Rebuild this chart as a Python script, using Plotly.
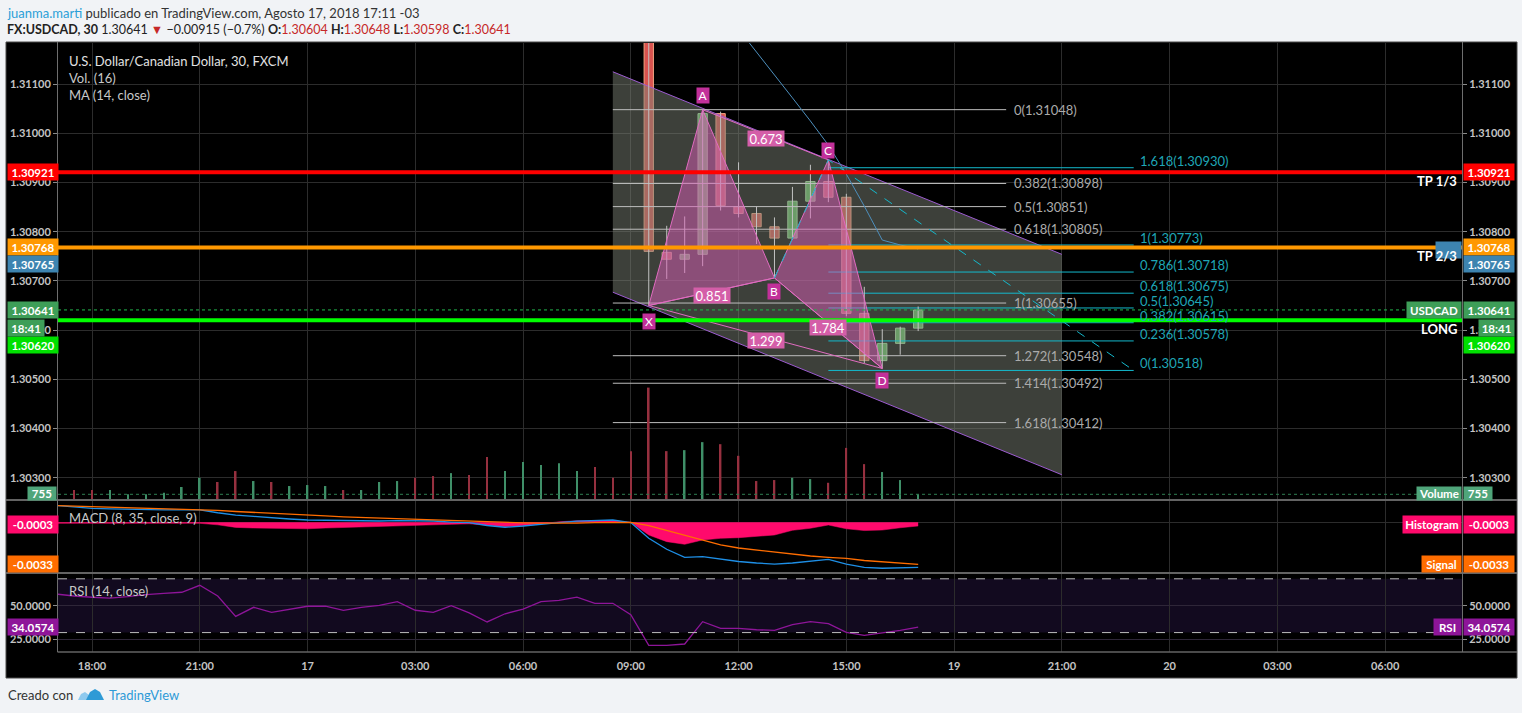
import plotly.graph_objects as go

# ---------------------------------------------------------------- data
# bar positions in hours after 16 Aug 18:00 (30-minute bars, weekend gap removed)
bar_hours = [h / 2 for h in range(-2, 47)]

volume = [1320, 1320, 1320, 1320, 755, 755, 960, 1720, 2940, 2380, 3830, 2510, 2380,
          1850, 1980, 1850, 1320, 1320, 2380, 2510, 2940, 3170, 3560, 3300, 5680, 3830,
          5020, 4620, 4880, 3830, 4360, 2940, 6470, 14880, 6470, 6600, 7660, 7390, 5850,
          2510, 2640, 2940, 2770, 2280, 6900, 4750, 3700, 2640, 755]
volume_up = [False, False, False, True, True, True, True, True, True, False, False, True,
             False, True, True, True, False, True, True, True, False, False, True, False,
             False, True, True, True, True, True, False, False, False, False, False, True,
             True, False, False, False, False, True, True, False, False, False, True, True, True]

macd_line = [0.00132, 0.00120, 0.00110, 0.00105, 0.00101, 0.00097, 0.00097, 0.00097, 0.00097,
             0.00075, 0.00057, 0.00046, 0.00034, 0.00026, 0.00018, 0.00016, 0.00013, 0.00010,
             0.00010, 0.00013, 0.00013, 0.00010, 0.00002, -0.00003, -0.00025, -0.00039,
             -0.00029, -0.00013, -0.00002, 0.00009, 0.00014, 0.00018, -0.00002, -0.00126,
             -0.00212, -0.00275, -0.00270, -0.00291, -0.00308, -0.00320, -0.00328, -0.00320,
             -0.00308, -0.00291, -0.00328, -0.00354, -0.00361, -0.00359, -0.00354]
macd_signal = [0.00132, 0.00128, 0.00124, 0.00120, 0.00116, 0.00112, 0.00110, 0.00106, 0.00102,
               0.00093, 0.00085, 0.00077, 0.00069, 0.00061, 0.00055, 0.00050, 0.00043, 0.00038,
               0.00032, 0.00028, 0.00024, 0.00018, 0.00013, 0.00008, 0.00002, -0.00002,
               -0.00004, -0.00006, -0.00007, -0.00006, -0.00003, -0.00002, 0.00000, -0.00027,
               -0.00066, -0.00105, -0.00145, -0.00178, -0.00202, -0.00218, -0.00237, -0.00251,
               -0.00265, -0.00275, -0.00283, -0.00300, -0.00310, -0.00320, -0.00330]
macd_hist = [-0.00008, -0.00008, -0.00009, -0.00010, -0.00010, -0.00010, -0.00009, -0.00008,
             -0.00008, -0.00020, -0.00040, -0.00045, -0.00048, -0.00050, -0.00051, -0.00045,
             -0.00040, -0.00036, -0.00033, -0.00030, -0.00026, -0.00020, -0.00016, -0.00012,
             -0.00024, -0.00035, -0.00028, -0.00012, 0.00004, 0.00012, 0.00013, 0.00012,
             0.00000, -0.00100, -0.00152, -0.00173, -0.00139, -0.00126, -0.00121, -0.00110,
             -0.00100, -0.00063, -0.00047, -0.00021, -0.00051, -0.00065, -0.00061, -0.00043,
             -0.00029]
rsi_values = [58.7, 57.2, 56.3, 55.7, 56.8, 58.3, 59.1, 60.0, 65.2, 57.2, 42.1, 48.8, 45.1,
              47.5, 49.6, 49.6, 46.6, 48.8, 50.3, 53.0, 46.6, 45.1, 50.0, 44.6, 37.9, 44.0,
              47.5, 53.0, 54.0, 56.3, 51.8, 51.8, 43.3, 20.5, 20.5, 21.5, 38.1, 33.2, 33.2,
              32.1, 31.7, 35.9, 38.1, 36.6, 30.2, 28.0, 29.7, 31.7, 34.0574]

candle_hours = [15.5, 16, 16.5, 17, 17.5, 18, 18.5, 19, 19.5, 20, 20.5, 21, 21.5, 22, 22.5, 23]
candle_open = [1.31290, 1.30758, 1.30744, 1.30754, 1.31040, 1.30851, 1.30837, 1.30810,
               1.30787, 1.30862, 1.30902, 1.30870, 1.30634, 1.30538, 1.30573, 1.30604]
candle_high = [1.31310, 1.30812, 1.30831, 1.31048, 1.31044, 1.30941, 1.30851, 1.30829,
               1.30891, 1.30936, 1.30946, 1.30877, 1.30688, 1.30602, 1.30607, 1.30648]
candle_low = [1.30650, 1.30704, 1.30716, 1.30730, 1.30843, 1.30829, 1.30775, 1.30706,
              1.30783, 1.30827, 1.30860, 1.30628, 1.30533, 1.30522, 1.30550, 1.30598]
candle_close = [1.30760, 1.30744, 1.30754, 1.31040, 1.30853, 1.30837, 1.30810, 1.30787,
                1.30862, 1.30902, 1.30870, 1.30634, 1.30538, 1.30573, 1.30604, 1.30641]

ma_hours = [17.5, 18, 18.5, 19, 19.5, 20, 20.5, 21, 21.5, 22, 22.5, 23]
ma_values = [1.31258, 1.31212, 1.31165, 1.31118, 1.31072, 1.31025, 1.30976, 1.30917,
             1.30852, 1.30783, 1.30773, 1.30765]

time_tick_hours = [0, 3, 6, 9, 12, 15, 18, 21, 24, 27, 30, 33, 36]
time_tick_labels = ["18:00", "21:00", "17", "03:00", "06:00", "09:00", "12:00", "15:00",
                    "19", "21:00", "20", "03:00", "06:00"]
price_ticks = [1.303, 1.304, 1.305, 1.306, 1.307, 1.308, 1.309, 1.310, 1.311]
rsi_ticks = [25, 50]

# XABCD harmonic pattern
pattern_names = ["X", "A", "B", "C", "D"]
pattern_hours = [15.5, 17, 19, 20.5, 22]
pattern_prices = [1.30650, 1.31048, 1.30706, 1.30946, 1.30522]
pattern_ratios = [("X", "B", "0.851"), ("A", "C", "0.673"), ("B", "D", "1.784"), ("X", "D", "1.299")]

# descending channel (start / end hour, upper and lower prices)
channel_hours = [14.5, 27]
channel_upper = [1.31125, 1.30754]
channel_lower = [1.30677, 1.30306]

# fibonacci retracement (grey) and trend-based extension (cyan)
fib_grey_hours = [14.5, 25.45]
fib_grey_levels = ["0", "0.382", "0.5", "0.618", "1", "1.272", "1.414", "1.618"]
fib_grey_prices = [1.31048, 1.30898, 1.30851, 1.30805, 1.30655, 1.30548, 1.30492, 1.30412]
fib_cyan_hours = [20.5, 29]
fib_cyan_levels = ["1.618", "1", "0.786", "0.618", "0.5", "0.382", "0.236", "0"]
fib_cyan_prices = [1.30930, 1.30773, 1.30718, 1.30675, 1.30645, 1.30615, 1.30578, 1.30518]
fib_cyan_path_hours = [19, 20.5, 29]
fib_cyan_path_prices = [1.30706, 1.30946, 1.30518]

# horizontal trade levels
tp1_price, tp2_price, long_price = 1.30921, 1.30768, 1.30620
last_price, ma_last, last_volume = 1.30641, 1.30765, 755
hist_last, signal_last, rsi_last = -0.0003, -0.0033, 34.0574

# ---------------------------------------------------------------- layout helpers
W, H = 1522, 713
FONT = "Lato"
GRID = "#2c2c2c"
AXF = dict(family=FONT, size=11, color="#c4c4c4", weight="bold")


def fx(px):
    return px / W


def fy(px):
    return 1 - px / H


XD = [fx(58), fx(1462)]
XR = [-0.9465, 38.14]
Y_MAIN = [1.302547, 1.311835]
Y_VOL = [0, 60500]
Y_MACD = [-0.003984, 0.001752]
Y_RSI = [15.55, 74.33]

fig = go.Figure()

# ---------------------------------------------------------------- volume
fig.add_trace(go.Bar(
    x=bar_hours, y=volume, yaxis="y4", xaxis="x", width=0.045,
    marker=dict(color=["#3f8f68" if u else "#96303f" for u in volume_up], line=dict(width=0)),
    hoverinfo="skip"))

# ---------------------------------------------------------------- channel
fig.add_trace(go.Scatter(
    x=[channel_hours[0], channel_hours[1], channel_hours[1], channel_hours[0], channel_hours[0]],
    y=[channel_upper[0], channel_upper[1], channel_lower[1], channel_lower[0], channel_upper[0]],
    fill="toself", fillcolor="rgba(122,128,116,0.5)", line=dict(width=0), mode="lines",
    hoverinfo="skip"))
for edge in (channel_upper, channel_lower):
    fig.add_trace(go.Scatter(x=channel_hours, y=edge, mode="lines",
                             line=dict(color="#9c5bd0", width=1), hoverinfo="skip"))

# ---------------------------------------------------------------- fib lines
fx_g, fy_g = [], []
for p in fib_grey_prices:
    fx_g += [fib_grey_hours[0], fib_grey_hours[1], None]
    fy_g += [p, p, None]
fig.add_trace(go.Scatter(x=fx_g, y=fy_g, mode="lines", line=dict(color="#bdbdbd", width=1),
                         hoverinfo="skip"))
fx_c, fy_c = [], []
for p in fib_cyan_prices:
    fx_c += [fib_cyan_hours[0], fib_cyan_hours[1], None]
    fy_c += [p, p, None]
fig.add_trace(go.Scatter(x=fx_c, y=fy_c, mode="lines", line=dict(color="#14b9cc", width=1),
                         hoverinfo="skip"))

# ---------------------------------------------------------------- candles
wx, wy = [], []
for h, hi, lo in zip(candle_hours, candle_high, candle_low):
    wx += [h, h, None]
    wy += [lo, hi, None]
fig.add_trace(go.Scatter(x=wx, y=wy, mode="lines", line=dict(color="#c2c2c2", width=1),
                         hoverinfo="skip"))
ups = [c >= o for o, c in zip(candle_open, candle_close)]
fig.add_trace(go.Bar(
    x=candle_hours,
    base=[min(o, c) for o, c in zip(candle_open, candle_close)],
    y=[max(abs(c - o), 0.00002) for o, c in zip(candle_open, candle_close)],
    width=0.26,
    marker=dict(color=["#5cb85c" if u else "#d9534f" for u in ups],
                line=dict(color=["#a6e2a2" if u else "#f4a582" for u in ups], width=1)),
    hoverinfo="skip"))

# moving average
fig.add_trace(go.Scatter(x=ma_hours, y=ma_values, mode="lines",
                         line=dict(color="#4d8fbd", width=1), hoverinfo="skip"))

# ---------------------------------------------------------------- harmonic pattern
P = {n: (h, p) for n, h, p in zip(pattern_names, pattern_hours, pattern_prices)}
for tri in (("X", "A", "B"), ("B", "C", "D")):
    fig.add_trace(go.Scatter(
        x=[P[n][0] for n in tri + (tri[0],)], y=[P[n][1] for n in tri + (tri[0],)],
        fill="toself", fillcolor="rgba(218,91,182,0.5)", mode="lines",
        line=dict(color="#e06cc0", width=1), hoverinfo="skip"))
for a, b, _ in pattern_ratios:
    fig.add_trace(go.Scatter(x=[P[a][0], P[b][0]], y=[P[a][1], P[b][1]], mode="lines",
                             line=dict(color="#e06cc0", width=1), hoverinfo="skip"))

fig.add_trace(go.Scatter(x=fib_cyan_path_hours, y=fib_cyan_path_prices, mode="lines",
                         line=dict(color="#14b9cc", width=1, dash="dash"), hoverinfo="skip"))

# ---------------------------------------------------------------- MACD
fig.add_trace(go.Scatter(x=bar_hours, y=macd_hist, xaxis="x2", yaxis="y2", mode="lines",
                         fill="tozeroy", fillcolor="#ff0a6c", line=dict(color="#ff0a6c", width=0.5),
                         hoverinfo="skip"))
fig.add_trace(go.Scatter(x=bar_hours, y=macd_line, xaxis="x2", yaxis="y2", mode="lines",
                         line=dict(color="#1e8fe6", width=1.3), hoverinfo="skip"))
fig.add_trace(go.Scatter(x=bar_hours, y=macd_signal, xaxis="x2", yaxis="y2", mode="lines",
                         line=dict(color="#ff6d00", width=1.3), hoverinfo="skip"))

# ---------------------------------------------------------------- RSI
fig.add_trace(go.Scatter(x=bar_hours, y=rsi_values, xaxis="x3", yaxis="y3", mode="lines",
                         line=dict(color="#8e1599", width=1.3), hoverinfo="skip"))

# invisible anchors for the right-hand axes
fig.add_trace(go.Scatter(x=[XR[0]], y=[last_price], yaxis="y5", mode="markers",
                         marker=dict(opacity=0), hoverinfo="skip"))
fig.add_trace(go.Scatter(x=[XR[0]], y=[50], xaxis="x3", yaxis="y6", mode="markers",
                         marker=dict(opacity=0), hoverinfo="skip"))

# ---------------------------------------------------------------- shapes
shapes = [
    dict(type="rect", xref="paper", yref="paper", x0=fx(6), x1=fx(1517), y0=fy(678), y1=fy(42),
         fillcolor="#000000", line=dict(color="#4a4a4a", width=1), layer="below"),
    dict(type="rect", xref="x3 domain", yref="y3", x0=0, x1=1, y0=30, y1=70,
         fillcolor="#120a1f", line=dict(width=0), layer="below"),
]
for yv in (70, 30):
    shapes.append(dict(type="line", xref="x3 domain", yref="y3", x0=0, x1=1, y0=yv, y1=yv,
                       line=dict(color="#bdbdbd", width=1, dash="dash"), layer="above"))
for ypx in (500, 573):
    shapes.append(dict(type="line", xref="paper", yref="paper", x0=fx(6), x1=fx(1517),
                       y0=fy(ypx), y1=fy(ypx), line=dict(color="#636363", width=2)))
shapes.append(dict(type="line", xref="paper", yref="paper", x0=fx(57.5), x1=fx(1517),
                   y0=fy(652), y1=fy(652), line=dict(color="#636363", width=1.5)))
for xpx in (57.5, 1462.5):
    shapes.append(dict(type="line", xref="paper", yref="paper", x0=fx(xpx), x1=fx(xpx),
                       y0=fy(652), y1=fy(42), line=dict(color="#6e6e6e", width=1)))
shapes += [
    dict(type="line", xref="x domain", yref="y4", x0=0, x1=1, y0=last_volume, y1=last_volume,
         line=dict(color="#2f7f52", width=1, dash="dot")),
    dict(type="line", xref="x domain", yref="y", x0=0, x1=1, y0=last_price, y1=last_price,
         line=dict(color="#22b14c", width=1, dash="dot")),
    dict(type="line", xref="x domain", yref="y", x0=0, x1=1, y0=tp1_price, y1=tp1_price,
         line=dict(color="#ff0000", width=4)),
    dict(type="line", xref="x domain", yref="y", x0=0, x1=1, y0=tp2_price, y1=tp2_price,
         line=dict(color="#ff9800", width=4)),
    dict(type="line", xref="x domain", yref="y", x0=0, x1=1, y0=long_price, y1=long_price,
         line=dict(color="#00ff00", width=4)),
]


# TradingView logo in the footer (two small cloud-like shapes)
def logo_path(points):
    return "M " + " L ".join("%.5f,%.5f" % (fx(a), fy(b)) for a, b in points) + " Z"


shapes.append(dict(type="path", xref="paper", yref="paper",
                   path=logo_path([(78, 700), (81, 694), (85, 692), (89, 695), (92, 700)]),
                   fillcolor="#8fc9ee", line=dict(width=0)))
shapes.append(dict(type="path", xref="paper", yref="paper",
                   path=logo_path([(86, 700), (90, 692), (95, 689), (100, 692), (104, 700)]),
                   fillcolor="#2e9ad6", line=dict(width=0)))

# ---------------------------------------------------------------- annotations
ann = []


def badge(text, xl, width, yref, y, bg, yshift=0, height=16, size=11.5, anchor="left"):
    ann.append(dict(text="<b>%s</b>" % text, xref="paper", x=fx(xl), xanchor=anchor,
                    yref=yref, y=y, yanchor="middle", yshift=yshift, showarrow=False,
                    bgcolor=bg, width=width, height=height, borderpad=0, align="center",
                    valign="middle", font=dict(family=FONT, size=size, color="#ffffff")))


for side_x in (7, 1463):
    badge("%.5f" % tp1_price, side_x, 50, "y", tp1_price, "#ff0000")
    badge("%.5f" % tp2_price, side_x, 50, "y", tp2_price, "#ff9800")
    badge("%.5f" % ma_last, side_x, 50, "y", ma_last, "#3d84b0", yshift=-15.5)
    badge("%.5f" % last_price, side_x, 50, "y", last_price, "#3e9e58")
    badge("%.5f" % long_price, side_x, 50, "y", long_price, "#00e000", yshift=-24.8)
    badge("%.4f" % hist_last, side_x, 50, "y2", hist_last, "#ff0a6c", yshift=2, height=17)
    badge("%.4f" % signal_last, side_x, 50, "y2", signal_last, "#ff6d00", height=16)
    badge("%.4f" % rsi_last, side_x, 50, "y3", rsi_last, "#8e1599", height=16)
badge("18:41", 7, 36, "y", last_price, "#3e9e58", yshift=-18.5)
badge("18:41", 1478, 35, "y", last_price, "#3e9e58", yshift=-18.5)
badge("%d" % last_volume, 57, 28, "y4", last_volume, "#4fa57a", yshift=0.5, height=13, anchor="right")
badge("%d" % last_volume, 1463, 28, "y4", last_volume, "#4fa57a", yshift=0.5, height=13)

# pane labels left of the right axis
badge("USDCAD", 1462, 54, "y", last_price, "#3e9e58", anchor="right")
badge("", 1462, 25, "y", ma_last, "#3d84b0", yshift=-1, anchor="right")
badge("Volume", 1462, 44, "y4", last_volume, "#4fa57a", yshift=0.5, height=13, anchor="right")
badge("Histogram", 1462, 58, "y2", hist_last, "#ff0a6c", yshift=2, height=17, anchor="right")
badge("Signal", 1462, 39, "y2", signal_last, "#ff6d00", anchor="right")
badge("RSI", 1462, 27, "y3", rsi_last, "#8e1599", anchor="right")

for txt, yv in (("TP 1/3", tp1_price), ("TP 2/3", tp2_price), ("LONG", long_price)):
    ann.append(dict(text="<b>%s</b>" % txt, xref="paper", x=fx(1459), xanchor="right",
                    yref="y", y=yv, yanchor="middle", yshift=-8.5, showarrow=False,
                    font=dict(family=FONT, size=13, color="#ffffff")))

# fib labels
for lv, p in zip(fib_grey_levels, fib_grey_prices):
    ann.append(dict(text="%s(%.5f)" % (lv, p), x=fib_grey_hours[1] + 0.16, y=p, xref="x", yref="y",
                    xanchor="left", yanchor="middle", showarrow=False,
                    font=dict(family=FONT, size=13, color="#ababab")))
for lv, p in zip(fib_cyan_levels, fib_cyan_prices):
    ann.append(dict(text="%s(%.5f)" % (lv, p), x=fib_cyan_hours[1] + 0.13, y=p, xref="x", yref="y",
                    xanchor="left", yanchor="middle", yshift=7, showarrow=False,
                    font=dict(family=FONT, size=13, color="#1fa6b6")))

# harmonic labels
point_shift = {"X": -16, "A": 14, "B": -14, "C": 9.5, "D": -12.5}
for n in pattern_names:
    ann.append(dict(text=n, x=P[n][0], y=P[n][1], xref="x", yref="y", yshift=point_shift[n],
                    showarrow=False, bgcolor="#c2309a", width=12, height=15, borderpad=0,
                    font=dict(family=FONT, size=12, color="#ffffff")))
for a, b, txt in pattern_ratios:
    ann.append(dict(text=txt, x=(P[a][0] + P[b][0]) / 2, y=(P[a][1] + P[b][1]) / 2, xref="x",
                    yref="y", yshift=-4, showarrow=False, bgcolor="#d45ea8", width=36, height=15,
                    borderpad=0, font=dict(family=FONT, size=13, color="#ffffff")))

# pane titles
for txt, ypx, col in (("U.S. Dollar/Canadian Dollar, 30, FXCM", 60.5, "#e2e2e2"),
                      ("Vol. (16)", 77.5, "#c8c8c8"), ("MA (14, close)", 94.5, "#c8c8c8"),
                      ("MACD (8, 35, close, 9)", 517.5, "#c8c8c8"),
                      ("RSI (14, close)", 590.5, "#c8c8c8")):
    ann.append(dict(text=txt, xref="paper", yref="paper", x=fx(67), y=fy(ypx), xanchor="left",
                    yanchor="middle", showarrow=False, font=dict(family=FONT, size=13, color=col)))

# header
ann.append(dict(
    text="<span style='color:#2a9fd8'>juanma.marti</span> publicado en TradingView.com, Agosto 17, 2018 17:11 -03",
    xref="paper", yref="paper", x=fx(5), y=fy(12.5), xanchor="left", yanchor="middle",
    showarrow=False, font=dict(family=FONT, size=13, color="#333333")))
red = "#c62828"
ann.append(dict(
    text=("<b>FX:USDCAD, 30</b> 1.30641 <span style='color:%s'>▼</span> −0.00915 (−0.7%%) "
          "<b>O:</b><span style='color:%s'>1.30604</span> <b>H:</b><span style='color:%s'>1.30648</span> "
          "<b>L:</b><span style='color:%s'>1.30598</span> <b>C:</b><span style='color:%s'>1.30641</span>")
         % (red, red, red, red, red),
    xref="paper", yref="paper", x=fx(5), y=fy(30), xanchor="left", yanchor="middle",
    showarrow=False, font=dict(family=FONT, size=12.5, color="#222222")))
# footer
ann.append(dict(text="Creado con", xref="paper", yref="paper", x=fx(6), y=fy(695), xanchor="left",
                yanchor="middle", showarrow=False, font=dict(family=FONT, size=13, color="#333333")))
ann.append(dict(text="TradingView", xref="paper", yref="paper", x=fx(107), y=fy(695),
                xanchor="left", yanchor="middle", showarrow=False,
                font=dict(family=FONT, size=13, color="#2e9ad6")))

# ---------------------------------------------------------------- axes
common_x = dict(domain=XD, range=XR, tickvals=time_tick_hours, showgrid=True, gridcolor=GRID,
                zeroline=False, showline=False)
price_ticktext = ["%.5f" % v for v in price_ticks]
fig.update_layout(
    width=W, height=H, margin=dict(l=0, r=0, t=0, b=0),
    paper_bgcolor="#f1f3f6", plot_bgcolor="#000000", showlegend=False, barmode="overlay",
    hovermode=False, shapes=shapes, annotations=ann,
    xaxis=dict(common_x, anchor="y", showticklabels=False),
    xaxis2=dict(common_x, anchor="y2", showticklabels=False, matches="x"),
    xaxis3=dict(common_x, anchor="y3", ticktext=time_tick_labels, showticklabels=True,
                ticks="outside", ticklen=4, tickcolor="rgba(0,0,0,0)", tickfont=AXF, matches="x"),
    yaxis=dict(domain=[fy(500), fy(43)], range=Y_MAIN, tickvals=price_ticks, ticktext=price_ticktext,
               side="left", ticks="outside", ticklen=4, tickcolor="#8a8a8a", tickfont=AXF,
               showgrid=True, gridcolor=GRID, zeroline=False, anchor="x"),
    yaxis5=dict(range=Y_MAIN, tickvals=price_ticks, ticktext=price_ticktext, side="right",
                overlaying="y", anchor="x", ticks="outside", ticklen=4, tickcolor="#8a8a8a",
                tickfont=AXF, showgrid=False, zeroline=False),
    yaxis4=dict(range=Y_VOL, overlaying="y", anchor="x", visible=False),
    yaxis2=dict(domain=[fy(573), fy(500)], range=Y_MACD, tickvals=[0], showticklabels=False,
                showgrid=True, gridcolor=GRID, zeroline=False, anchor="x2"),
    yaxis3=dict(domain=[fy(652), fy(573)], range=Y_RSI, tickvals=rsi_ticks,
                ticktext=["%.4f" % v for v in rsi_ticks], side="left", ticks="outside", ticklen=4,
                tickcolor="#8a8a8a", tickfont=AXF, showgrid=True, gridcolor="#2e2638",
                zeroline=False, anchor="x3"),
    yaxis6=dict(range=Y_RSI, tickvals=rsi_ticks, ticktext=["%.4f" % v for v in rsi_ticks],
                side="right", overlaying="y3", anchor="x3", ticks="outside", ticklen=4,
                tickcolor="#8a8a8a", tickfont=AXF, showgrid=False, zeroline=False),
)

fig.write_html("out.html", config={"displayModeBar": False})
